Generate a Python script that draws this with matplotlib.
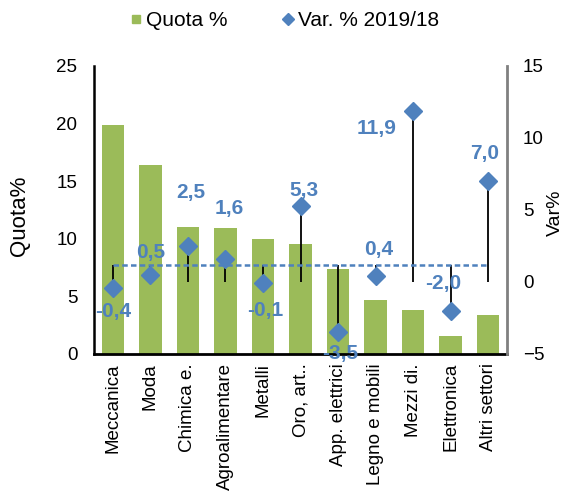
import numpy as np
import matplotlib.pyplot as plt
from matplotlib.lines import Line2D

plt.rcParams['font.family'] = ['Liberation Sans', 'DejaVu Sans']

# data
sectors = ["Meccanica", "Moda", "Chimica e.", "Agroalimentare", "Metalli", "Oro, art..",
           "App. elettrici", "Legno e mobili", "Mezzi di.", "Elettronica", "Altri settori"]
quota = [19.9, 16.4, 11.05, 10.9, 9.95, 9.55, 7.4, 4.7, 3.8, 1.55, 3.4]
var_1918 = [-0.4, 0.5, 2.5, 1.6, -0.1, 5.3, -3.5, 0.4, 11.9, -2.0, 7.0]
var_avg = 1.2

# where each data label sits relative to its diamond (pixels)
label_offsets = [(0, -24), (0.5, 22), (3, 53), (4, 50), (2, -27), (3, 15),
                 (2, -21), (3, 27), (-37, -18), (-7, 27), (-4, 28)]

green = '#9BBB59'
blue = '#4F81BD'

fig = plt.figure(figsize=(5.69, 4.92), dpi=100)
ax = fig.add_axes([94 / 569, 1 - 354 / 492, 413 / 569, 288 / 492])
ax2 = ax.twinx()

x = np.arange(len(sectors))

# bars on the left axis
ax.bar(x, quota, width=0.6, color=green, zorder=2)
ax.set_xlim(-0.5, len(sectors) - 0.5)
ax.set_ylim(0, 25)
ax.set_yticks(range(0, 26, 5))
ax.set_xticks(x)
ax.set_xticklabels(sectors, rotation=90, va='top', ha='center')
ax.tick_params(axis='both', length=0, labelsize=13.5)
ax.tick_params(axis='y', pad=12)
ax.tick_params(axis='x', pad=6.5)

for s in ['top', 'right']:
    ax.spines[s].set_visible(False)
ax.spines['left'].set_linewidth(1.8)
ax.spines['bottom'].set_linewidth(2.0)

ax.set_ylabel("Quota%", fontsize=16)
ax.yaxis.set_label_coords(-0.155, 0.48)

# variation on the right axis
ax2.set_ylim(-5, 15)
ax2.set_yticks(range(-5, 16, 5))
ax2.tick_params(axis='y', length=0, labelsize=13.5, pad=11.5)
for s in ['top', 'left', 'bottom']:
    ax2.spines[s].set_visible(False)
ax2.spines['right'].set_color('#808080')
ax2.spines['right'].set_linewidth(2.0)
ax2.set_ylabel("Var%", fontsize=14)
ax2.yaxis.set_label_coords(1.097, 0.49)

# high-low lines between zero, average and value
lows = [min(0, var_avg, v) for v in var_1918]
highs = [max(0, var_avg, v) for v in var_1918]
ax2.vlines(x, lows, highs, color='black', linewidth=1.3, zorder=3)

ax2.plot([x[0], x[-1]], [var_avg, var_avg], color=blue, linewidth=1.8,
         linestyle=(0, (2.2, 1.3)), zorder=3)

ax2.plot(x, var_1918, linestyle='none', marker='D', markersize=9,
         color=blue, zorder=4)

for xi, v, off in zip(x, var_1918, label_offsets):
    ax2.annotate(f"{v:.1f}".replace('.', ','), (xi, v), xytext=off,
                 textcoords='offset pixels', ha='center', va='center',
                 fontsize=15, fontweight='bold', color=blue, zorder=5)

# legend on top
handles = [Line2D([], [], linestyle='none', marker='s', markersize=5.5, color=green),
           Line2D([], [], linestyle='none', marker='D', markersize=6.6, color=blue)]
fig.legend(handles, ["Quota %", "Var. % 2019/18"], loc='center', bbox_to_anchor=(0.5, 0.958),
           ncol=2, frameon=False, fontsize=15, handlelength=0.6, handletextpad=0.2,
           columnspacing=2.6, borderaxespad=0)

fig.savefig("out.png", dpi=100)
